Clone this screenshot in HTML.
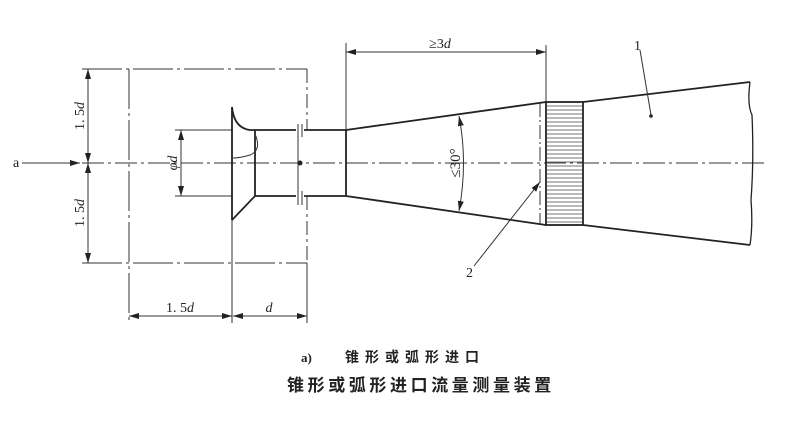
<!DOCTYPE html>
<html><head><meta charset="utf-8"><style>
html,body{margin:0;padding:0;background:#fff;}
svg{display:block}
text{font-family:"Liberation Serif","Noto Serif CJK SC",serif;fill:#222}
.cn{font-family:"Liberation Sans","Noto Sans CJK SC",sans-serif;}
</style></head><body>
<svg width="788" height="444" viewBox="0 0 788 444" xmlns="http://www.w3.org/2000/svg">
<defs>
<marker id="ar" viewBox="0 0 10 6" refX="10" refY="3" markerWidth="10" markerHeight="6" orient="auto-start-reverse" markerUnits="userSpaceOnUse"><path d="M0,0L10,3L0,6z" fill="#222"/></marker>
</defs>
<g stroke="#333" fill="none" stroke-width="1">
<line x1="82" y1="163" x2="765" y2="163" stroke-dasharray="22,4,3,4"/>
<line x1="82" y1="69" x2="307" y2="69" stroke-dasharray="40,4,3,4"/>
<line x1="82" y1="263" x2="307" y2="263" stroke-dasharray="40,4,3,4"/>
<line x1="129" y1="69" x2="129" y2="323" stroke-dasharray="40,4,3,4"/>
<line x1="307" y1="69" x2="307" y2="130" stroke-dasharray="14,4,3,4"/>
<line x1="307" y1="196" x2="307" y2="263" stroke-dasharray="14,4,3,4"/>
<line x1="307" y1="263" x2="307" y2="323"/>
<line x1="232" y1="220" x2="232" y2="323"/>
<line x1="88" y1="69" x2="88" y2="163" marker-start="url(#ar)" marker-end="url(#ar)"/>
<line x1="88" y1="163" x2="88" y2="263" marker-start="url(#ar)" marker-end="url(#ar)"/>
<line x1="22" y1="163" x2="80" y2="163" marker-end="url(#ar)"/>
<line x1="175" y1="130" x2="232" y2="130"/>
<line x1="175" y1="196" x2="232" y2="196"/>
<line x1="181" y1="130" x2="181" y2="196" marker-start="url(#ar)" marker-end="url(#ar)"/>
<line x1="129" y1="316" x2="232" y2="316" marker-start="url(#ar)" marker-end="url(#ar)"/>
<line x1="233" y1="316" x2="307" y2="316" marker-start="url(#ar)" marker-end="url(#ar)"/>
<line x1="346" y1="43" x2="346" y2="130"/>
<line x1="546" y1="45" x2="546" y2="102"/>
<line x1="346" y1="52" x2="546" y2="52" marker-start="url(#ar)" marker-end="url(#ar)"/>
</g>
<g stroke="#222" fill="none" stroke-width="1.8">
<line x1="232" y1="107" x2="232" y2="220"/>
<path d="M232,107 Q234,128 250,130 L296,130 M304,130 L346,130"/>
<path d="M232,220 L255,196 L296,196 M304,196 L346,196"/>
<line x1="255" y1="130" x2="255" y2="196"/>
<line x1="346" y1="130" x2="346" y2="196"/>
<line x1="346" y1="130" x2="546" y2="102"/>
<line x1="346" y1="196" x2="546" y2="225"/>
<rect x="546" y="102" width="37" height="123"/>
<line x1="583" y1="102" x2="750" y2="82"/>
<line x1="583" y1="225" x2="750" y2="245"/>
<path d="M750,82 Q747,105 752,115 Q754,160 751,200 Q753,225 750,245" stroke-width="1.3"/>
</g>
<g stroke="#333" fill="none" stroke-width="1">
<path d="M255,134 Q262,150 250,155 Q240,158 233,158"/>
<line x1="298" y1="124" x2="298" y2="205"/>
<line x1="302" y1="124" x2="302" y2="137"/>
<line x1="302" y1="191" x2="302" y2="205"/>
<line x1="540" y1="103" x2="540" y2="224" stroke-dasharray="14,3,2,3"/>
<path d="M459,116 Q468,163 459,211" marker-start="url(#ar)" marker-end="url(#ar)"/>
<line x1="474" y1="266" x2="540" y2="182" marker-end="url(#ar)"/>
<line x1="640" y1="50" x2="651" y2="115"/>
</g>
<circle cx="300" cy="163" r="2.5" fill="#222"/>
<circle cx="651" cy="116" r="1.8" fill="#222"/>
<g stroke="#444" stroke-width="0.8">
<line x1="546" y1="106" x2="583" y2="106"/><line x1="546" y1="110" x2="583" y2="110"/><line x1="546" y1="114" x2="583" y2="114"/><line x1="546" y1="118" x2="583" y2="118"/><line x1="546" y1="122" x2="583" y2="122"/><line x1="546" y1="126" x2="583" y2="126"/><line x1="546" y1="130" x2="583" y2="130"/><line x1="546" y1="134" x2="583" y2="134"/><line x1="546" y1="138" x2="583" y2="138"/><line x1="546" y1="142" x2="583" y2="142"/><line x1="546" y1="146" x2="583" y2="146"/><line x1="546" y1="150" x2="583" y2="150"/><line x1="546" y1="154" x2="583" y2="154"/><line x1="546" y1="158" x2="583" y2="158"/><line x1="546" y1="162" x2="583" y2="162"/><line x1="546" y1="166" x2="583" y2="166"/><line x1="546" y1="170" x2="583" y2="170"/><line x1="546" y1="174" x2="583" y2="174"/><line x1="546" y1="178" x2="583" y2="178"/><line x1="546" y1="182" x2="583" y2="182"/><line x1="546" y1="186" x2="583" y2="186"/><line x1="546" y1="190" x2="583" y2="190"/><line x1="546" y1="194" x2="583" y2="194"/><line x1="546" y1="198" x2="583" y2="198"/><line x1="546" y1="202" x2="583" y2="202"/><line x1="546" y1="206" x2="583" y2="206"/><line x1="546" y1="210" x2="583" y2="210"/><line x1="546" y1="214" x2="583" y2="214"/><line x1="546" y1="218" x2="583" y2="218"/><line x1="546" y1="222" x2="583" y2="222"/>
</g>
<text x="13" y="167" font-size="14">a</text>
<text transform="translate(84,116) rotate(-90)" font-size="14" text-anchor="middle">1. 5<tspan font-style="italic">d</tspan></text>
<text transform="translate(84,213) rotate(-90)" font-size="14" text-anchor="middle">1. 5<tspan font-style="italic">d</tspan></text>
<text transform="translate(177,163) rotate(-90)" font-size="14" text-anchor="middle" font-style="italic">φd</text>
<text x="180" y="312" font-size="14" text-anchor="middle">1. 5<tspan font-style="italic">d</tspan></text>
<text x="269" y="312" font-size="14" text-anchor="middle" font-style="italic">d</text>
<text x="440" y="48" font-size="14" text-anchor="middle">≥3<tspan font-style="italic">d</tspan></text>
<text transform="translate(460,163) rotate(-90)" font-size="15" text-anchor="middle">≤30°</text>
<text x="634" y="50" font-size="14">1</text>
<text x="466" y="277" font-size="14">2</text>
<text x="301" y="362" font-size="13" font-weight="bold">a)</text>
<text class="cn" x="345" y="362" font-size="14" font-weight="bold" letter-spacing="6">锥形或弧形进口</text>
<text class="cn" x="287" y="391" font-size="17" font-weight="bold" letter-spacing="3.6">锥形或弧形进口流量测量装置</text>
</svg>
</body></html>
